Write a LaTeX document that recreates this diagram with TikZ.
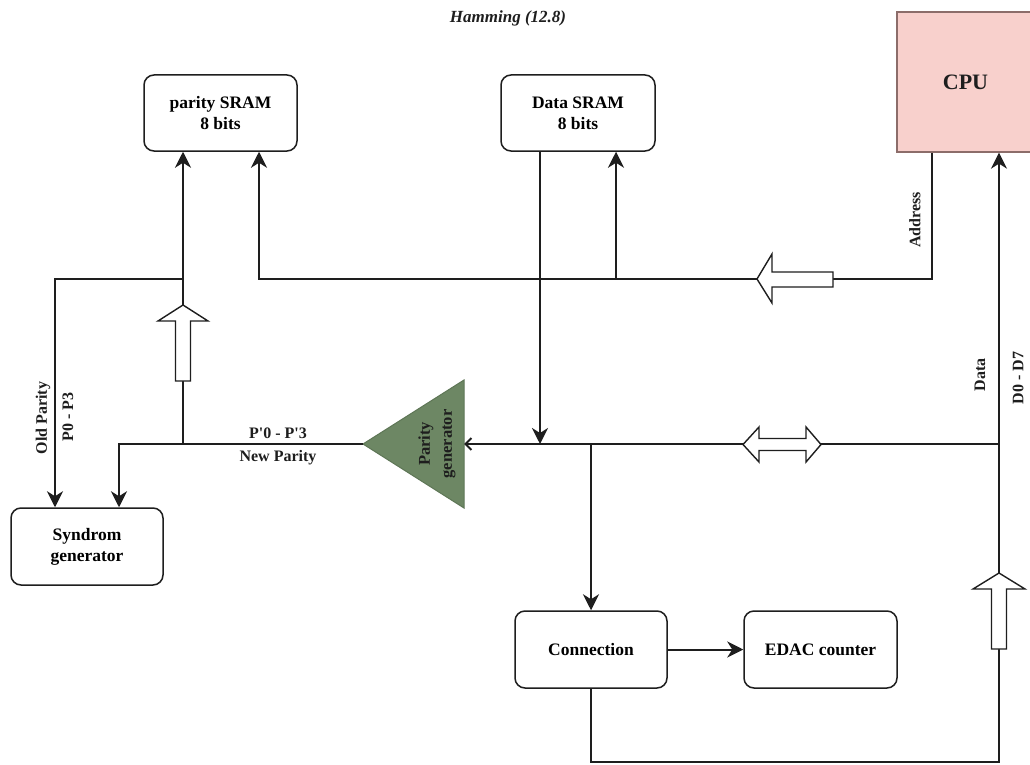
\documentclass[tikz,border=0pt]{standalone}
\usepackage{fontspec}
\setmainfont{Liberation Serif}
\usetikzlibrary{arrows.meta}
\definecolor{cpufill}{HTML}{F8D0CC}
\definecolor{cpuline}{HTML}{8C6D6A}
\definecolor{pgfillc}{HTML}{6D8764}
\definecolor{pgline}{HTML}{5E7656}
\definecolor{ink}{HTML}{1E1E1E}
\tikzset{
  wire/.style={line width=2pt, draw=ink},
  arr/.style={-{Stealth[length=16pt,width=16pt,inset=5pt]}},
  box/.style={draw=ink, line width=1.5pt, rounded corners=10pt, align=center,
    inner sep=0pt, font=\fontsize{17.5}{21}\selectfont\bfseries},
  lbl/.style={font=\fontsize{16}{19}\selectfont\bfseries, text=ink, inner sep=0pt},
  hollow/.style={draw=ink, fill=white, line width=1.4pt, line join=miter},
}
\begin{document}
\begin{tikzpicture}[x=1pt,y=-1pt]
\useasboundingbox[fill=white] (0,0) rectangle (1030,765);

% title
\node[font=\fontsize{17}{20}\selectfont\bfseries\itshape, text=ink] (title) at (508,18) {Hamming (12.8)};

% blocks
\node[box, minimum width=153pt, minimum height=76pt] (psram) at (220.5,113) {parity SRAM\\8 bits};
\node[box, minimum width=154pt, minimum height=76pt] (dsram) at (578,113) {Data SRAM\\8 bits};
\node[draw=cpuline, fill=cpufill, line width=1.3pt, minimum width=137pt, minimum height=140pt,
  inner sep=0pt, font=\fontsize{22}{26}\selectfont\bfseries, text=ink] (cpu) at (965.5,82) {CPU};
\node[box, minimum width=152pt, minimum height=77pt] (syn) at (87,546.5) {Syndrom\\generator};
\node[box, minimum width=152pt, minimum height=77pt] (conn) at (591,649.5) {Connection};
\node[box, minimum width=153pt, minimum height=77pt] (edac) at (820.5,649.5) {EDAC counter};

% parity generator (triangle pointing left)
\coordinate (pgtip) at (363,444);
\coordinate (pgin) at (464,444);
\filldraw[fill=pgfillc, draw=pgline, line width=1pt] (pgtip) -- (464,380) -- (464,508) -- cycle;
\node[font=\fontsize{16.5}{22}\selectfont\bfseries, text=ink, rotate=90, align=center, inner sep=0pt]
  (pgen) at (437,444) {Parity\\generator};

% bus junction points
\coordinate (aX) at (932,279);
\coordinate (abusP) at (259,279);
\coordinate (abusD) at (616,279);
\coordinate (dX) at (999,444);
\coordinate (dDown) at (540,444);
\coordinate (dConn) at (591,444);
\coordinate (pJ) at (183,444);
\coordinate (pL) at (119,444);
\coordinate (oJ) at (183,279);
\coordinate (oL) at (55,279);
\coordinate (bL) at (591,762);
\coordinate (bR) at (999,762);

% address bus
\draw[wire, arr] (cpu.south -| aX) -- (aX) -- (abusP) -- (abusP |- psram.south);
\draw[wire, arr] (abusD) -- (abusD |- dsram.south);

% data bus
\draw[wire, arr] (dsram.south -| dDown) -- (dDown);
\draw[wire, -{Straight Barb[length=6pt,width=12pt]}] (dX) -- (pgin);
\draw[wire, arr] (dConn) -- (conn.north);
\draw[wire, arr] (conn) -- (edac);
\draw[wire, arr] (conn.south) -- (bL) -- (bR) -- (cpu.south -| bR);

% parity paths
\draw[wire, arr] (pgtip) -- (pL) -- (pL |- syn.north);
\draw[wire, arr] (pJ) -- (pJ |- psram.south);
\draw[wire, arr] (oJ) -- (oL) -- (oL |- syn.north);

% hollow bus arrows
\draw[hollow] (757,279) -- (772,254) -- (772,272) -- (833,272) -- (833,287) -- (772,287) -- (772,303) -- cycle;
\draw[hollow] (183,305) -- (208,321) -- (190.5,321) -- (190.5,381) -- (175.5,381) -- (175.5,321) -- (158,321) -- cycle;
\draw[hollow] (999,573) -- (1025,589) -- (1006.5,589) -- (1006.5,649) -- (991.5,649) -- (991.5,589) -- (973,589) -- cycle;
\draw[hollow] (743,444.5) -- (759,427) -- (759,438.5) -- (806,438.5) -- (806,427) -- (821,444.5)
  -- (806,462) -- (806,450.5) -- (759,450.5) -- (759,462) -- cycle;

% labels
\node[lbl, rotate=90] (lold) at (43,418) {Old Parity};
\node[lbl, rotate=90] (lp03) at (68,417) {P0 - P3};
\node[lbl] (lnp) at (278,433) {P\textquotesingle0 - P\textquotesingle3};
\node[lbl] (lnew) at (278,458) {New Parity};
\node[lbl, rotate=90] (laddr) at (915,220) {Address};
\node[lbl, rotate=90] (ldata) at (980,375) {Data};
\node[lbl, rotate=90] (ld07) at (1018,378) {D0 - D7};
\end{tikzpicture}
\end{document}
